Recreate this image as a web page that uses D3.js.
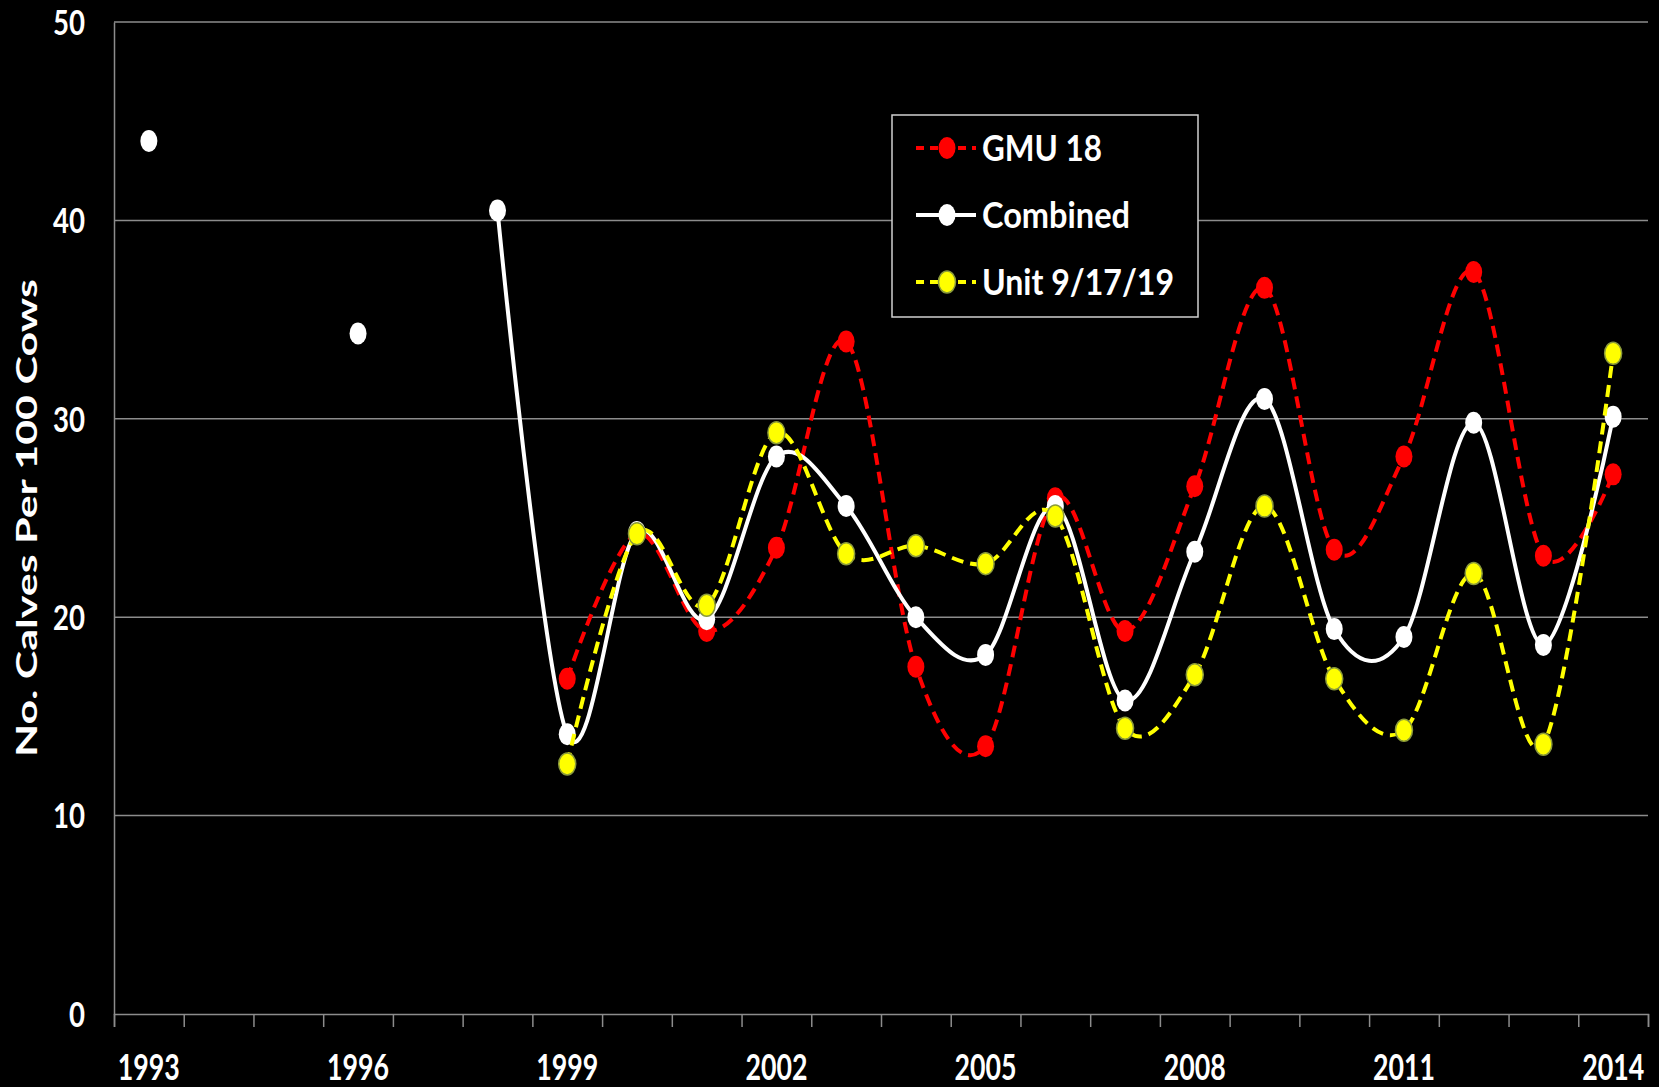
<!DOCTYPE html>
<html>
<head>
<meta charset="utf-8">
<script src="https://cdn.jsdelivr.net/npm/d3@7"></script>
<style>
  html, body { margin: 0; padding: 0; background: #000; }
  svg { display: block; }
  text { font-family: Lato, "Liberation Sans Narrow", "Liberation Sans", Arial, sans-serif; font-weight: bold; fill: #fff; }
</style>
</head>
<body>
<svg id="chart" width="1659" height="1087"></svg>
<script>
let years = ['1993','1994','1995','1996','1997','1998','1999','2000','2001','2002','2003',
             '2004','2005','2006','2007','2008','2009','2010','2011','2012','2013','2014']
let yearLabels = ['1993','1996','1999','2002','2005','2008','2011','2014']
let yTicks = [0, 10, 20, 30, 40, 50]

let gmu18 = [null, null, null, null, null, null, 16.9, 24.2, 19.3, 23.5, 33.9,
             17.5, 13.5, 26.0, 19.3, 26.6, 36.6, 23.4, 28.1, 37.4, 23.1, 27.2]
let combined = [44.0, null, null, 34.3, null, 40.5, 14.1, 24.3, 19.9, 28.1, 25.6,
                20.0, 18.1, 25.6, 15.8, 23.3, 31.0, 19.4, 19.0, 29.8, 18.6, 30.1]
let unit91719 = [null, null, null, null, null, null, 12.6, 24.2, 20.6, 29.3, 23.2,
                 23.6, 22.7, 25.1, 14.4, 17.1, 25.6, 16.9, 14.3, 22.2, 13.6, 33.3]

let seriesNames = ['GMU 18', 'Combined', 'Unit 9/17/19']

let svg = d3.select('#chart')

let plotLeft = 114, plotRight = 1648, plotTop = 22, plotBottom = 1014

let x = d3.scaleBand().domain(years).range([plotLeft, plotRight]).padding(0)
let xEdge = d3.scaleLinear().domain([0, years.length]).range([plotLeft, plotRight])
let y = d3.scaleLinear().domain([0, 50]).range([plotBottom, plotTop])

// gridlines
svg.append('g')
  .selectAll('line')
  .data(yTicks.filter(t => t > 0))
  .enter()
  .append('line')
  .attr('x1', plotLeft).attr('x2', plotRight)
  .attr('y1', d => y(d)).attr('y2', d => y(d))
  .attr('stroke', '#8c8c8c').attr('stroke-width', 1.5)

// y axis
let yAxis = svg.append('g')
  .attr('transform', 'translate(' + plotLeft + ',0)')
  .call(d3.axisLeft(y).tickValues(yTicks).tickSize(0).tickPadding(29))
yAxis.select('.domain').attr('stroke', '#8c8c8c').attr('stroke-width', 1.5)
yAxis.selectAll('text')
  .attr('font-size', 34)
  .attr('fill', '#fff')
  .attr('dy', '0.36em')
  .attr('textLength', d => String(d).length * 16)
  .attr('lengthAdjust', 'spacingAndGlyphs')

// x axis ticks on band edges
let xAxis = svg.append('g')
  .attr('transform', 'translate(0,' + plotBottom + ')')
  .call(d3.axisBottom(xEdge).tickValues(d3.range(years.length + 1)).tickSize(13).tickFormat(''))
xAxis.select('.domain').attr('stroke', '#8c8c8c').attr('stroke-width', 1.5)
xAxis.selectAll('.tick line').attr('stroke', '#8c8c8c').attr('stroke-width', 1.5)

// x labels
svg.append('g')
  .selectAll('text')
  .data(yearLabels)
  .enter()
  .append('text')
  .attr('x', d => x(d) + x.bandwidth() / 2)
  .attr('y', 1080)
  .attr('text-anchor', 'middle')
  .attr('font-size', 37)
  .attr('textLength', 62)
  .attr('lengthAdjust', 'spacingAndGlyphs')
  .text(d => d)

// y title
svg.append('text')
  .attr('transform', 'translate(37,518) rotate(-90)')
  .attr('text-anchor', 'middle')
  .attr('font-family', '"DejaVu Sans", Verdana, sans-serif')
  .attr('font-size', 29)
  .attr('textLength', 478)
  .attr('lengthAdjust', 'spacingAndGlyphs')
  .text('No. Calves Per 100 Cows')

let line = d3.line()
  .defined(d => d.v != null)
  .x(d => x(d.year) + x.bandwidth() / 2)
  .y(d => y(d.v))
  .curve(d3.curveCardinal.tension(0))

let series = [
  { name: seriesNames[0], values: gmu18, color: '#ff0000', dash: '12,7', outline: 'none' },
  { name: seriesNames[1], values: combined, color: '#ffffff', dash: null, outline: 'none' },
  { name: seriesNames[2], values: unit91719, color: '#ffff00', dash: '12,7', outline: '#8a9a3a' }
]

series.forEach(s => {
  let pts = years.map((yr, i) => ({ year: yr, v: s.values[i] }))
  svg.append('path')
    .datum(pts)
    .attr('d', line)
    .attr('fill', 'none')
    .attr('stroke', s.color)
    .attr('stroke-width', 4)
    .attr('stroke-dasharray', s.dash)
  svg.append('g')
    .selectAll('ellipse')
    .data(pts.filter(p => p.v != null))
    .enter()
    .append('ellipse')
    .attr('cx', d => x(d.year) + x.bandwidth() / 2)
    .attr('cy', d => y(d.v))
    .attr('rx', 8.5)
    .attr('ry', 11)
    .attr('fill', s.color)
    .attr('stroke', s.outline)
    .attr('stroke-width', 1.5)
})

// legend
let legend = svg.append('g')
legend.append('rect')
  .attr('x', 892).attr('y', 115).attr('width', 306).attr('height', 202)
  .attr('fill', '#000').attr('stroke', '#d0d0d0').attr('stroke-width', 1.5)

let legendWidths = [120, 148, 192]
series.forEach((s, i) => {
  let cy = 148 + i * 67
  legend.append('line')
    .attr('x1', 916).attr('x2', 976).attr('y1', cy).attr('y2', cy)
    .attr('stroke', s.color).attr('stroke-width', 4)
    .attr('stroke-dasharray', s.dash ? '8,6' : null)
  legend.append('ellipse')
    .attr('cx', 947).attr('cy', cy).attr('rx', 8.5).attr('ry', 11)
    .attr('fill', s.color).attr('stroke', s.outline).attr('stroke-width', 1.5)
  legend.append('text')
    .attr('x', 982).attr('y', cy + 13)
    .attr('font-size', 37)
    .attr('textLength', legendWidths[i])
    .attr('lengthAdjust', 'spacingAndGlyphs')
    .text(s.name)
})
</script>
</body>
</html>
